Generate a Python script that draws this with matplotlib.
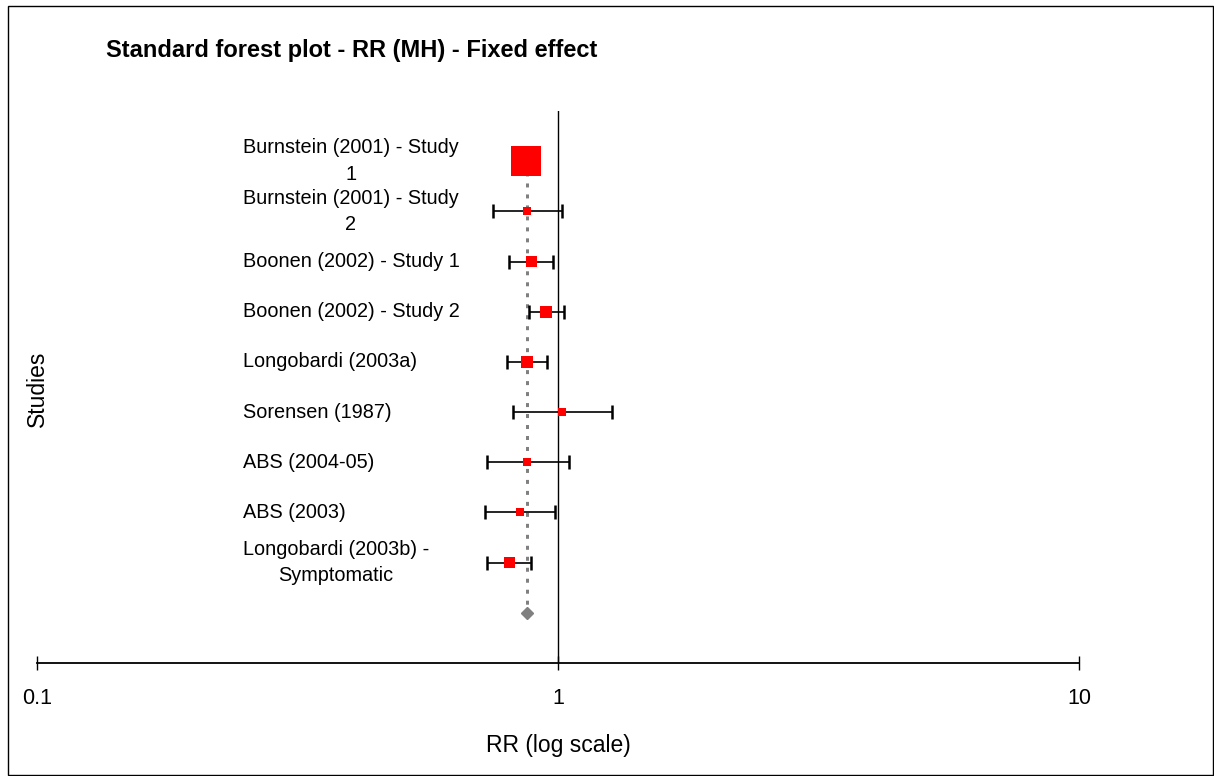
import numpy as np
import matplotlib
matplotlib.use("Agg")
from matplotlib import pyplot as plt
from matplotlib.patches import Rectangle
import matplotlib.transforms as mtransforms

plt.rcParams['font.family'] = ['Liberation Sans', 'DejaVu Sans']

# study estimates (risk ratio) with 95% CI and relative weights (%)
studies = ["Burnstein (2001) - Study\n1",
           "Burnstein (2001) - Study\n2",
           "Boonen (2002) - Study 1",
           "Boonen (2002) - Study 2",
           "Longobardi (2003a)",
           "Sorensen (1987)",
           "ABS (2004-05)",
           "ABS (2003)",
           "Longobardi (2003b) -\nSymptomatic"]
rr = [0.868, 0.872, 0.889, 0.948, 0.872, 1.018, 0.872, 0.845, 0.807]
rr_low = [0.84, 0.749, 0.805, 0.880, 0.799, 0.820, 0.731, 0.724, 0.731]
rr_high = [0.90, 1.018, 0.978, 1.027, 0.954, 1.268, 1.051, 0.987, 0.888]
weights = [53.4, 3.8, 7.2, 8.5, 8.5, 3.8, 3.8, 3.8, 7.2]
pooled_rr = 0.873
xticks = [0.1, 1, 10]

W, H = 1214, 776
fig = plt.figure(figsize=(W / 100, H / 100), dpi=100)
ax = fig.add_axes([37 / W, 1 - 663 / H, 1042 / W, 552 / H])

rr = np.array(rr)
ypos = np.arange(1, len(rr) + 1)
pooled_y = len(rr) + 1

# confidence intervals
xerr = np.vstack([rr - np.array(rr_low), np.array(rr_high) - rr])
ax.errorbar(rr, ypos, xerr=xerr, fmt='none', ecolor='black',
            elinewidth=1.2, capsize=5, capthick=1.8, zorder=2)

# boxes with area proportional to weight
side_pt = 4.105 * np.sqrt(weights) * 0.72
ax.scatter(rr, ypos, marker='s', s=side_pt ** 2, color='#FF0000',
           linewidths=0, zorder=3)

# pooled estimate: dotted reference line and diamond
ax.plot([pooled_rr, pooled_rr], [ypos[0], pooled_y], color='#808080',
        lw=2.16, linestyle=(0, (1.33, 2.33)), dash_capstyle='butt', zorder=1)
ax.plot([pooled_rr], [pooled_y], marker='D', ms=6.6, color='#808080',
        linestyle='none', zorder=3)

# line of no effect
ax.axvline(1, color='black', lw=1.0, zorder=1)

ax.set_xscale('log')
ax.set_xlim(0.1, 10)
ax.set_ylim(len(rr) + 2, 0)
ax.set_xticks(xticks)
ax.set_xticklabels(['0.1', '1', '10'])
ax.xaxis.set_minor_locator(matplotlib.ticker.NullLocator())
ax.tick_params(axis='x', direction='inout', length=10, width=1,
               labelsize=15.5, pad=13)
ax.set_yticks([])
for s in ['top', 'left', 'right']:
    ax.spines[s].set_visible(False)
ax.spines['bottom'].set_linewidth(1.3)

ax.set_xlabel("RR (log scale)", fontsize=16.5)
ax.xaxis.set_label_coords(0.5, -0.128)

# study names
trans = mtransforms.blended_transform_factory(ax.transAxes, ax.transData)
for y, name in zip(ypos, studies):
    ax.text(206 / 1042, y, name, transform=trans, ha='left', va='center',
            multialignment='center', fontsize=14.3, linespacing=1.5)

fig.text(37 / W, 1 - 389 / H, "Studies", rotation=90, ha='center',
         va='center', fontsize=16.5)
fig.text(106 / W, 1 - 50 / H, "Standard forest plot - RR (MH) - Fixed effect",
         ha='left', va='center', fontsize=17, fontweight='bold')

# chart border
fig.patches.append(Rectangle((7.5 / W, 1.5 / H), 1205 / W, 769 / H,
                             transform=fig.transFigure, fill=False,
                             edgecolor='black', lw=1.0))

fig.savefig("out.png", dpi=100)
